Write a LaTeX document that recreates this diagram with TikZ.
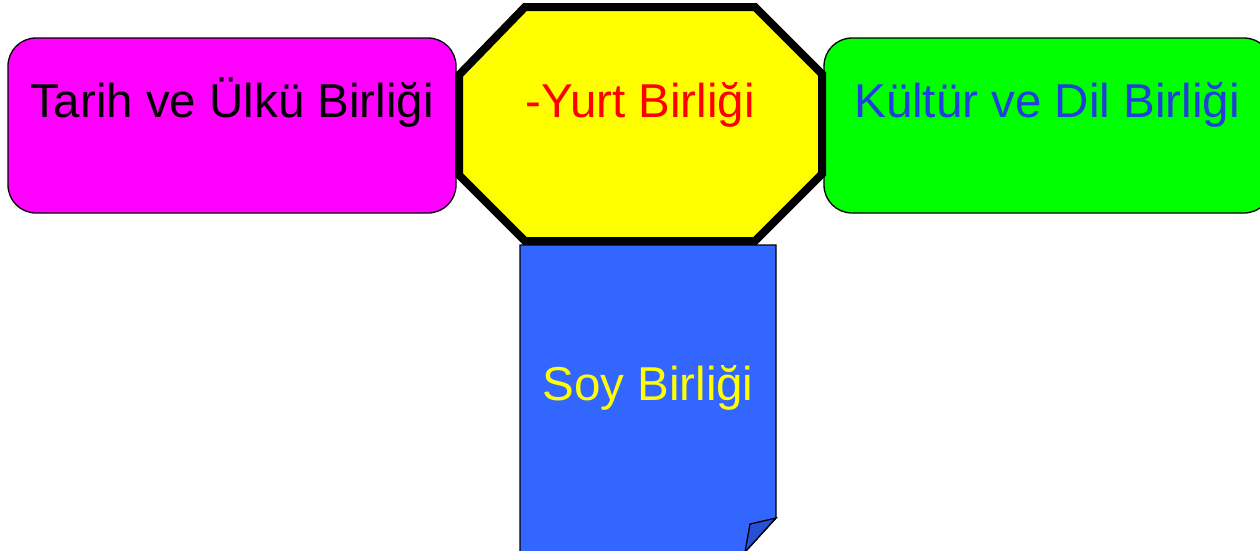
\documentclass[tikz,border=0pt]{standalone}
\usepackage{fontspec}
\setmainfont{Liberation Sans}
\definecolor{mag}{RGB}{255,0,255}
\definecolor{yel}{RGB}{255,255,0}
\definecolor{grn}{RGB}{0,255,0}
\definecolor{notebl}{RGB}{51,102,255}
\definecolor{folddk}{RGB}{40,80,210}
\definecolor{txtbl}{RGB}{32,64,221}
\tikzset{
  box/.style={draw=black, line width=1.3pt, rounded corners=28pt, minimum width=448pt, minimum height=175pt},
  lbl/.style={font=\fontsize{47.5}{57}\selectfont, anchor=base, inner sep=0pt}
}
\begin{document}
\begin{tikzpicture}[x=1pt,y=-1pt]
                        \useasboundingbox (0,0) rectangle (1260,550);
                        \node [box, fill=mag] (tarih) at (232,125.5) {};
                        \node [box, fill=grn] (kultur) at (1048,125.5) {};
                        \filldraw [fill=yel, line width=8pt, line join=miter]
                            (525,7) -- (755,7) -- (822,74) -- (822,174) -- (755,241)
                            -- (525,241) -- (459,175) -- (459,75) -- cycle;
                        \filldraw [fill=notebl, line width=1.3pt]
                            (520,245) -- (776,245) -- (776,518) -- (745,552) -- (520,552) -- cycle;
                        \filldraw [fill=folddk, line width=1.3pt]
                            (776,518) -- (750,524) -- (745,552) -- cycle;

                        \node [lbl, text=black] (tarihtxt) at (232,117) {Tarih ve Ülkü Birliği};
                        \node [lbl, text=red] (yurttxt) at (640,117) {-Yurt Birliği};
                        \node [lbl, text=txtbl] (kulturtxt) at (1047,117) {Kültür ve Dil Birliği};
                        \node [lbl, text=yel] (soytxt) at (648,400) {Soy Birliği};
                    \end{tikzpicture}
\end{document}
